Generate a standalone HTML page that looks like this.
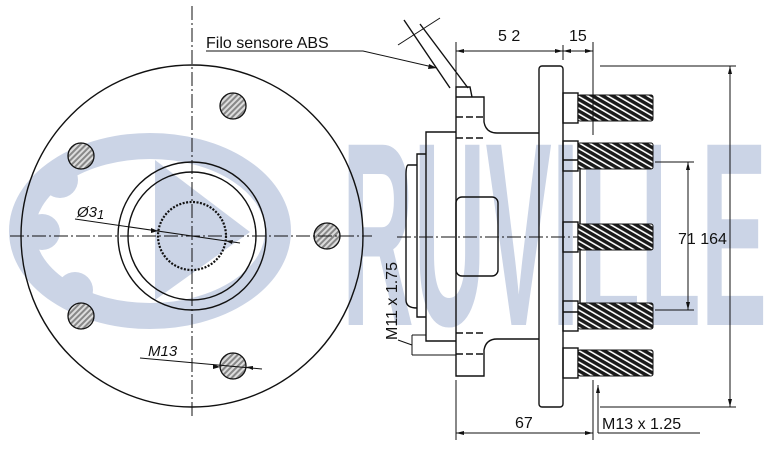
<!DOCTYPE html>
<html><head><meta charset="utf-8"><style>
html,body{margin:0;padding:0;background:#fff}
svg{display:block}
text{font-family:"Liberation Sans",sans-serif;fill:#111}
</style></head><body>
<svg width="769" height="465" viewBox="0 0 769 465" xmlns="http://www.w3.org/2000/svg">
<defs>
<pattern id="h" width="4" height="4" patternUnits="userSpaceOnUse" patternTransform="rotate(45)">
<rect width="4" height="4" fill="#888"/><rect width="2" height="4" fill="#ddd"/></pattern>
<pattern id="t" width="5" height="5" patternUnits="userSpaceOnUse" patternTransform="rotate(-60)">
<rect width="5" height="5" fill="#1a1a1a"/><rect width="1.6" height="5" fill="#fff"/></pattern>
</defs>
<!-- watermark -->
<g fill="#cbd4e6" stroke="none">
<ellipse cx="150" cy="231" rx="128" ry="85" fill="none" stroke="#cbd4e6" stroke-width="26"/>
<circle cx="60" cy="180" r="18"/><circle cx="42" cy="232" r="18"/><circle cx="75" cy="290" r="18"/>
<polygon points="155,160 250,232 155,300"/>
<text x="342" y="325" font-size="262" font-weight="bold" textLength="425" lengthAdjust="spacingAndGlyphs" style="fill:#cbd4e6">RUVILLE</text>
</g>
<g fill="none" stroke="#111" stroke-width="1.4">
<!-- left view -->
<circle cx="192" cy="236" r="171"/>
<circle cx="192" cy="236" r="74"/>
<circle cx="192" cy="236" r="64"/>
<circle cx="192" cy="236" r="34" stroke-dasharray="2 1.5" stroke-width="2.2"/>
<g fill="url(#h)" stroke-width="1.3">
<circle cx="233" cy="106" r="13"/><circle cx="81" cy="156" r="13"/><circle cx="327" cy="236" r="13"/>
<circle cx="81" cy="316" r="13"/><circle cx="233" cy="366" r="13"/></g>
<g stroke-width="1" stroke-dasharray="14 3 2 3">
<line x1="10" y1="236" x2="372" y2="236"/><line x1="192" y1="6" x2="192" y2="418"/>
<line x1="397" y1="237" x2="600" y2="237"/></g>
<line x1="75" y1="219" x2="240" y2="243" stroke-width="1"/>
<line x1="140" y1="358" x2="262" y2="369" stroke-width="1"/>
<!-- label leaders -->
<polyline points="206,51 363,51 437,68" stroke-width="1"/>
<line x1="404" y1="20" x2="450" y2="88"/><line x1="420" y1="24" x2="468" y2="88"/>
<line x1="398" y1="45" x2="440" y2="18" stroke-width="1"/>
<!-- knuckle -->
<path d="M456,97 L484,97 L484,122 Q486,133 497,133 L539,133"/>
<path d="M539,339 L497,339 Q486,339 484,350 L484,376 L456,376 L456,97"/>
<path d="M456,97 L456,87 L470,87 L472,97"/>
<path d="M456,132 L426,132 L426,341 L456,341 M426,154 L417,154 L417,317 L426,317 M417,165 L408,165 Q406,166 406,175 L406,300 Q406,308 417,308"/>
<rect x="456" y="197" width="42" height="79" rx="6"/>
<g stroke-dasharray="7 3"><line x1="456" y1="117" x2="484" y2="117"/><line x1="456" y1="138" x2="484" y2="138"/>
<line x1="456" y1="333" x2="484" y2="333"/><line x1="456" y1="354" x2="484" y2="354"/></g>
<rect x="539" y="66" width="24" height="341" rx="3"/>
<line x1="563" y1="160" x2="580" y2="160"/><line x1="580" y1="160" x2="580" y2="312"/><line x1="563" y1="312" x2="580" y2="312"/>
<g>
<rect x="563" y="93" width="15" height="30"/><rect x="563" y="141" width="15" height="30"/><rect x="563" y="222" width="15" height="30"/>
<rect x="563" y="301" width="15" height="30"/><rect x="563" y="348" width="15" height="30"/></g>
<g fill="url(#t)" stroke-width="1">
<rect x="578" y="95" width="75" height="26" rx="2"/><rect x="578" y="143" width="75" height="26" rx="2"/><rect x="578" y="224" width="75" height="26" rx="2"/>
<rect x="578" y="303" width="75" height="26" rx="2"/><rect x="578" y="350" width="75" height="26" rx="2"/></g>
<!-- dims -->
<g stroke-width="1">
<line x1="456" y1="51" x2="593" y2="51"/><line x1="456" y1="42" x2="456" y2="88"/><line x1="593" y1="42" x2="593" y2="135"/>
<line x1="563" y1="45" x2="563" y2="60"/>
<line x1="456" y1="380" x2="456" y2="440"/><line x1="593" y1="380" x2="593" y2="440"/><line x1="456" y1="433" x2="593" y2="433"/>
<line x1="600" y1="66" x2="736" y2="66"/><line x1="600" y1="407" x2="736" y2="407"/><line x1="730" y1="66" x2="730" y2="407"/>
<line x1="655" y1="162" x2="694" y2="162"/><line x1="655" y1="310" x2="694" y2="310"/><line x1="688" y1="162" x2="688" y2="310"/>
<line x1="598" y1="385" x2="598" y2="433"/><line x1="598" y1="433" x2="700" y2="433"/>
<line x1="398" y1="340" x2="412" y2="345"/><line x1="412" y1="335" x2="412" y2="355"/><line x1="412" y1="355" x2="456" y2="355"/><line x1="412" y1="335" x2="426" y2="335"/>
</g>
</g>
<g fill="#111">
<polygon points="456,51 464,49 464,53"/><polygon points="563,51 555,49 555,53"/><polygon points="563,51 571,49 571,53"/><polygon points="593,51 585,49 585,53"/>
<polygon points="456,433 464,431 464,435"/><polygon points="593,433 585,431 585,435"/>
<polygon points="730,66 728,74 732,74"/><polygon points="730,407 728,399 732,399"/>
<polygon points="688,162 686,170 690,170"/><polygon points="688,310 686,302 690,302"/>
<polygon points="598,385 596,393 600,393"/><polygon points="437,68 429,64 428,69"/>
<polygon points="158,231 151,228 151,233"/><polygon points="226,241 233,240 232,244"/>
<polygon points="220,367 213,364 213,369"/><polygon points="246,367 253,366 253,370"/>
</g>
<text x="206" y="48" font-size="16">Filo sensore ABS</text>
<text x="498" y="41" font-size="16">5 2</text>
<text x="569" y="41" font-size="16">15</text>
<text x="678" y="244" font-size="16">71  164</text>
<text x="515" y="428" font-size="16">67</text>
<text x="602" y="429" font-size="16">M13 x 1.25</text>
<text x="77" y="217" font-size="15" font-style="italic">Ø3<tspan font-size="13" dy="2">1</tspan></text>
<text x="148" y="356" font-size="15" font-style="italic">M13</text>
<text x="0" y="0" font-size="16" transform="translate(397,340) rotate(-90)">M11 x 1.75</text>
</svg>
</body></html>
